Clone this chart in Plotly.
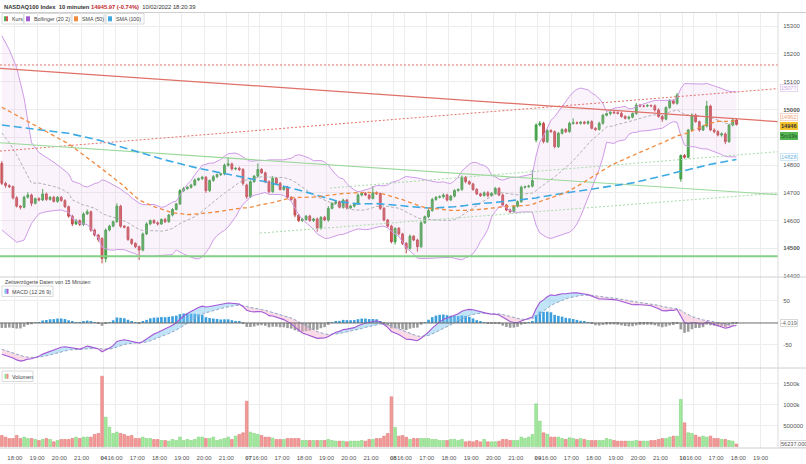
import numpy as np
import plotly.graph_objects as go

# ---------------- time axis ----------------
day_labels = ["04", "07", "08", "09", "10"]
day_first_index = [27, 66, 105, 144, 183]          # index of the 15:30 bar of each session
hour_labels = ["16:00", "17:00", "18:00", "19:00", "20:00", "21:00"]
hour_steps = [3, 9, 15, 21, 27, 33]                # bars after 15:30
day03_first_index = -12                            # 03/02 15:30 lies before the window

# ---------------- candles (10-minute closes per session) ----------------
close_03 = [14734, 14726, 14722, 14682, 14652, 14648, 14684, 14692, 14662, 14679,
            14674, 14696, 14676, 14684, 14669, 14684, 14672, 14650, 14616, 14588,
            14600, 14586, 14624, 14632, 14566, 14548, 14532]
close_04 = [14464, 14566, 14580, 14596, 14652, 14580, 14576, 14532, 14518, 14506,
            14494, 14552, 14588, 14600, 14592, 14588, 14604, 14596, 14620, 14640,
            14660, 14708, 14715, 14720, 14728, 14746, 14751, 14756, 14708, 14744,
            14758, 14765, 14768, 14799, 14804, 14786, 14788, 14784, 14734]
close_07 = [14686, 14740, 14760, 14784, 14772, 14740, 14704, 14752, 14734, 14712,
            14720, 14684, 14676, 14620, 14600, 14604, 14616, 14600, 14606, 14572,
            14612, 14602, 14644, 14662, 14668, 14648, 14674, 14646, 14652, 14660,
            14692, 14698, 14692, 14680, 14700, 14697, 14644, 14602, 14580]
close_08 = [14524, 14572, 14552, 14518, 14500, 14544, 14530, 14506, 14592, 14614,
            14636, 14676, 14684, 14686, 14692, 14674, 14688, 14708, 14712, 14756,
            14740, 14732, 14712, 14696, 14690, 14700, 14690, 14698, 14716, 14692,
            14656, 14638, 14632, 14652, 14668, 14720, 14722, 14724, 14744]
close_09 = [14944, 14950, 14884, 14924, 14920, 14866, 14914, 14928, 14920, 14950,
            14952, 14950, 14954, 14950, 14956, 14932, 14928, 14950, 14979, 14985,
            14990, 14988, 14986, 14975, 14968, 14972, 14985, 15015, 15012, 15012,
            15014, 15013, 14998, 14975, 14965, 15007, 15031, 15022, 15051]
close_10 = [14834, 14828, 14926, 14980, 14956, 14926, 14940, 15012, 14926, 14920,
            14908, 14912, 14884, 14944, 14962, 14946]
session_open = [14806, 14536, 14728, 14580, 14890, 14750]

wick_up_03 = [8, 6, 5, 4, 6, 4, 6, 10, 5, 4, 5, 18, 5, 4, 5, 4, 4, 5, 4, 5, 6, 4, 6, 8, 4, 5, 4]
wick_dn_03 = [6, 8, 5, 6, 5, 8, 4, 5, 10, 4, 5, 4, 5, 4, 4, 5, 4, 5, 6, 8, 4, 6, 5, 4, 6, 5, 8]
wick_up_04 = [4, 6, 5, 4, 10, 5, 4, 4, 4, 4, 4, 5, 6, 4, 5, 5, 4, 6, 4, 5, 4, 5, 6, 4, 5, 6,
              4, 5, 4, 4, 6, 5, 4, 6, 24, 5, 4, 6, 5]
wick_dn_04 = [18, 14, 5, 4, 4, 6, 4, 5, 6, 5, 36, 5, 4, 5, 4, 6, 4, 5, 4, 5, 4, 4, 5, 4, 5, 4,
              4, 5, 8, 5, 4, 5, 4, 5, 5, 6, 5, 6, 8]
wick_up_07 = [5, 5, 4, 22, 5, 4, 5, 8, 4, 5, 4, 5, 4, 6, 4, 6, 4, 5, 4, 5, 4, 5, 8, 4, 5, 4,
              5, 4, 5, 4, 6, 4, 5, 4, 24, 5, 4, 5, 4]
wick_dn_07 = [8, 5, 4, 5, 4, 5, 6, 4, 5, 4, 5, 6, 4, 8, 5, 4, 5, 4, 5, 12, 5, 4, 6, 4, 5, 4,
              5, 6, 4, 5, 4, 5, 4, 5, 4, 5, 6, 5, 6]
wick_up_08 = [5, 4, 5, 4, 5, 6, 4, 5, 6, 4, 5, 6, 4, 5, 6, 5, 4, 5, 4, 6, 4, 5, 4, 5, 4, 5,
              6, 4, 5, 4, 5, 4, 5, 4, 5, 6, 4, 5, 38]
wick_dn_08 = [6, 10, 5, 6, 18, 5, 4, 18, 5, 4, 5, 4, 5, 4, 6, 5, 4, 5, 4, 5, 6, 4, 5, 4, 5, 4,
              6, 4, 5, 4, 5, 4, 6, 4, 5, 4, 5, 4, 5]
wick_up_09 = [6, 8, 5, 6, 5, 4, 5, 4, 5, 6, 16, 5, 4, 5, 4, 5, 4, 6, 5, 4, 5, 4, 5, 6, 4, 5,
              4, 8, 5, 4, 5, 4, 5, 6, 5, 4, 6, 5, 8]
wick_dn_09 = [8, 5, 6, 5, 4, 6, 5, 4, 5, 4, 5, 4, 5, 4, 5, 4, 5, 4, 5, 4, 6, 5, 4, 5, 4, 5,
              4, 5, 4, 5, 4, 5, 6, 5, 10, 4, 5, 4, 5]
wick_up_10 = [4, 5, 4, 6, 5, 4, 5, 19, 5, 6, 5, 6, 5, 4, 5, 6]
wick_dn_10 = [10, 5, 4, 5, 4, 6, 4, 5, 4, 6, 5, 6, 9, 4, 5, 4]

# volume per bar, thousands
vol_03 = [262, 222, 190, 190, 262, 190, 222, 190, 190, 167, 143, 167, 190, 167, 111, 143,
          167, 167, 167, 190, 222, 190, 222, 222, 222, 286, 309]
vol_04 = [1673, 697, 459, 309, 341, 309, 286, 246, 262, 190, 190, 222, 190, 190, 167, 167,
          143, 143, 127, 167, 143, 222, 143, 167, 143, 167, 222, 222, 190, 190, 222, 143,
          167, 190, 222, 167, 246, 286, 325]
vol_07 = [1078, 340, 310, 290, 262, 222, 222, 200, 167, 167, 167, 190, 190, 190, 190, 143,
          143, 143, 143, 143, 143, 143, 167, 143, 127, 127, 127, 111, 127, 127, 127, 143,
          127, 167, 167, 190, 190, 246, 309]
vol_08 = [1183, 452, 246, 262, 222, 167, 190, 190, 190, 190, 190, 167, 167, 143, 143, 143,
          167, 167, 143, 167, 111, 127, 111, 143, 111, 167, 111, 111, 111, 127, 167, 167,
          143, 143, 143, 222, 190, 222, 286]
vol_09 = [1016, 603, 326, 293, 222, 222, 222, 190, 167, 206, 190, 167, 190, 167, 143, 143,
          143, 143, 143, 190, 167, 143, 127, 127, 127, 127, 127, 143, 127, 127, 127, 143,
          143, 167, 190, 190, 222, 246, 246]
vol_10 = [1120, 563, 326, 309, 270, 222, 246, 222, 246, 190, 190, 167, 167, 143, 127, 56.237]

# ---------------- indicators read where their window starts before the chart ----------------
bb_head_index = [0, 2, 4, 6, 7, 8, 10, 12, 14, 16, 18]
bb_head_upper = [15265, 15215, 15150, 15040, 14960, 14880, 14845, 14828, 14810, 14790, 14768]
bb_head_lower = [14566, 14545, 14522, 14530, 14560, 14590, 14625, 14632, 14636, 14638, 14630]
sma50_head_index = [0, 8, 18, 26, 32, 37, 41, 46]
sma50_head = [15008, 14948, 14876, 14796, 14734, 14674, 14650, 14628]
sma100_head_index = [0, 18, 26, 35, 44, 53, 62, 71, 80, 86, 91, 96]
sma100_head = [14944, 14914, 14890, 14854, 14818, 14788, 14764, 14740, 14710, 14686, 14668, 14660]
macd_seed = {"ema12": 14846, "ema26": 14913, "signal": -57}

# ---------------- drawn trend lines (index, price) ----------------
red_solid = ([-0.5, 209.2], [15148, 14956])
red_dotted_up = ([-0.5, 209.2], [14850, 15075])
red_dotted_level = 15160
green_solid = ([-0.5, 209.2], [14880, 14693])
green_dotted_low = ([69.6, 209.2], [14555, 14699])
green_dotted_high = ([88.5, 209.2], [14717, 14848])
green_support = 14472

# right-axis value boxes
box_bb_upper = 15077
box_sma50 = 14962
box_price = 14946
box_sma100 = 14828
box_macd = "-4.019"
box_volume = "56237.000"
countdown = "5m19s"

price_ticks = [14400, 14500, 14600, 14700, 14800, 14900, 15000, 15100, 15200, 15300]
price_hidden = [14900]            # label covered by the value boxes in the chart
macd_ticks = [-50, 50]
volume_ticks = [500000, 1000000, 1500000]
volume_ticktext = ["500000", "1000k", "1500k"]

# ---------------- build series ----------------
sessions = [close_03, close_04, close_07, close_08, close_09, close_10]
wu = [wick_up_03, wick_up_04, wick_up_07, wick_up_08, wick_up_09, wick_up_10]
wd = [wick_dn_03, wick_dn_04, wick_dn_07, wick_dn_08, wick_dn_09, wick_dn_10]
vols = [vol_03, vol_04, vol_07, vol_08, vol_09, vol_10]
O, H, L, C, V = [], [], [], [], []
for s, cl in enumerate(sessions):
    for k, c in enumerate(cl):
        o = session_open[s] if k == 0 else cl[k - 1]
        O.append(o); C.append(c)
        H.append(max(o, c) + wu[s][k]); L.append(min(o, c) - wd[s][k])
        V.append(vols[s][k] * 1000)
n = len(C)
idx = np.arange(n)
c_arr = np.array(C, dtype=float)

# Bollinger (20, 2)
bb_up_c, bb_lo_c, bb_mid_c = [], [], []
for i in range(19, n):
    w = c_arr[i - 19:i + 1]
    m, sd = w.mean(), w.std()
    bb_mid_c.append(m); bb_up_c.append(m + 2 * sd); bb_lo_c.append(m - 2 * sd)
bb_x = list(bb_head_index) + list(range(19, n))
bb_up = list(bb_head_upper) + bb_up_c
bb_lo = list(bb_head_lower) + bb_lo_c
bb_mid = [(a + b) / 2 for a, b in zip(bb_head_upper, bb_head_lower)] + bb_mid_c

sma50_x = list(sma50_head_index) + list(range(49, n))
sma50 = list(sma50_head) + [c_arr[i - 49:i + 1].mean() for i in range(49, n)]
sma100_x = list(sma100_head_index) + list(range(99, n))
sma100 = list(sma100_head) + [c_arr[i - 99:i + 1].mean() for i in range(99, n)]

# MACD (12 26 9)
e12, e26, sg = macd_seed["ema12"], macd_seed["ema26"], macd_seed["signal"]
macd, sig = [], []
for v in c_arr:
    e12 += 2 / 13 * (v - e12)
    e26 += 2 / 27 * (v - e26)
    m = e12 - e26
    sg += 0.2 * (m - sg)
    macd.append(m); sig.append(sg)
macd = np.array(macd); sig = np.array(sig); hist = macd - sig

# ---------------- geometry helpers (pixels -> paper) ----------------
W, Hh = 806, 464
ML, MR, MT, MB = 0, 28, 13, 16
PW, PH = W - ML - MR, Hh - MT - MB
def pxx(x): return (x - ML) / PW
def pxy(y): return (Hh - MB - y) / PH

FONT = "Arial, Liberation Sans, sans-serif"
GREEN, RED = "#4daf4f", "#d2595a"
fig = go.Figure()

# Bollinger fill + lines
fig.add_trace(go.Scatter(x=bb_x, y=bb_up, mode="lines", line=dict(color="#cf9be8", width=1),
                         xaxis="x", yaxis="y", hoverinfo="skip"))
fig.add_trace(go.Scatter(x=bb_x, y=bb_lo, mode="lines", line=dict(color="#cf9be8", width=1),
                         fill="tonexty", fillcolor="rgba(225,190,240,0.18)",
                         xaxis="x", yaxis="y", hoverinfo="skip"))
fig.add_trace(go.Scatter(x=bb_x, y=bb_mid, mode="lines", line=dict(color="#a0a0a0", width=0.8, dash="3px,2px"),
                         xaxis="x", yaxis="y"))

xr = [-0.5, 209.2]
# trend lines
fig.add_trace(go.Scatter(x=xr, y=[green_support] * 2, mode="lines", line=dict(color="#86d086", width=2), xaxis="x", yaxis="y"))
fig.add_trace(go.Scatter(x=xr, y=[red_dotted_level] * 2, mode="lines", line=dict(color="#e5706a", width=1, dash="2px,2px"), xaxis="x", yaxis="y"))
fig.add_trace(go.Scatter(x=red_dotted_up[0], y=red_dotted_up[1], mode="lines", line=dict(color="#e5706a", width=1, dash="2px,2px"), xaxis="x", yaxis="y"))
fig.add_trace(go.Scatter(x=red_solid[0], y=red_solid[1], mode="lines", line=dict(color="#e07068", width=1.2), xaxis="x", yaxis="y"))
fig.add_trace(go.Scatter(x=green_solid[0], y=green_solid[1], mode="lines", line=dict(color="#9ad89a", width=1.1), xaxis="x", yaxis="y"))
fig.add_trace(go.Scatter(x=green_dotted_low[0], y=green_dotted_low[1], mode="lines", line=dict(color="#a8dca8", width=1, dash="2px,2px"), xaxis="x", yaxis="y"))
fig.add_trace(go.Scatter(x=green_dotted_high[0], y=green_dotted_high[1], mode="lines", line=dict(color="#a8dca8", width=1, dash="2px,2px"), xaxis="x", yaxis="y"))

# SMAs
fig.add_trace(go.Scatter(x=sma100_x, y=sma100, mode="lines", line=dict(color="#3ca9e2", width=1.6, dash="8px,4px"), xaxis="x", yaxis="y"))
fig.add_trace(go.Scatter(x=sma50_x, y=sma50, mode="lines", line=dict(color="#f08a3e", width=1.3, dash="4px,3px"), xaxis="x", yaxis="y"))

# candles
fig.add_trace(go.Candlestick(x=idx, open=O, high=H, low=L, close=C, xaxis="x", yaxis="y",
                             increasing=dict(line=dict(color="#3f9e42", width=1), fillcolor=GREEN),
                             decreasing=dict(line=dict(color="#c24b4c", width=1), fillcolor=RED),
                             whiskerwidth=0))

# MACD pane
fig.add_trace(go.Bar(x=idx, y=hist, width=0.7, xaxis="x2", yaxis="y2",
                     marker=dict(color=["#3a9fdc" if h >= 0 else "#9c9c9c" for h in hist], line=dict(width=0))))
fig.add_trace(go.Scatter(x=idx, y=sig, mode="lines", line=dict(width=0), xaxis="x2", yaxis="y2", hoverinfo="skip"))
fig.add_trace(go.Scatter(x=idx, y=np.maximum(macd, sig), mode="lines", line=dict(width=0), fill="tonexty",
                         fillcolor="rgba(120,195,240,0.45)", xaxis="x2", yaxis="y2", hoverinfo="skip"))
fig.add_trace(go.Scatter(x=idx, y=sig, mode="lines", line=dict(width=0), xaxis="x2", yaxis="y2", hoverinfo="skip"))
fig.add_trace(go.Scatter(x=idx, y=np.minimum(macd, sig), mode="lines", line=dict(width=0), fill="tonexty",
                         fillcolor="rgba(245,175,205,0.45)", xaxis="x2", yaxis="y2", hoverinfo="skip"))
fig.add_trace(go.Scatter(x=idx, y=sig, mode="lines", line=dict(color="#8fa6c4", width=1, dash="3px,2px"), xaxis="x2", yaxis="y2"))
fig.add_trace(go.Scatter(x=idx, y=macd, mode="lines", line=dict(color="#a358d6", width=1.1), xaxis="x2", yaxis="y2"))

# Volume pane
up = [c >= o for o, c in zip(O, C)]
fig.add_trace(go.Bar(x=idx, y=V, width=0.72, xaxis="x3", yaxis="y3",
                     marker=dict(color=["#a3ea9f" if u else "#f29a98" for u in up],
                                 line=dict(color=["#7fd27b" if u else "#e07a78" for u in up], width=0.6))))

# ---------------- axes ----------------
tickvals, ticktext = [], []
for s, lab in zip(hour_steps, hour_labels):
    t = day03_first_index + s + 0.5
    if xr[0] <= t <= xr[1]:
        tickvals.append(t); ticktext.append(lab)
for d, lab in zip(day_first_index, day_labels):
    tickvals.append(d + 0.5); ticktext.append("<b>%s</b>" % lab)
    for s, hl in zip(hour_steps, hour_labels):
        t = d + s + 0.5
        if xr[0] <= t <= xr[1]:
            tickvals.append(t); ticktext.append(hl)

grid = "#ededed"
xcommon = dict(range=xr, tickvals=tickvals, ticktext=ticktext, showgrid=True, gridcolor=grid,
               gridwidth=1, zeroline=False, showline=False, domain=[0, 1], fixedrange=True, tickangle=0)
ycommon = dict(side="right", showgrid=True, gridcolor=grid, zeroline=False, showline=False,
               tickfont=dict(size=6, color="#555", family=FONT), ticks="outside", ticklen=3,
               tickcolor="rgba(0,0,0,0)", fixedrange=True)

main_dom = [pxy(277), 1]
macd_dom = [pxy(368), pxy(277)]
vol_dom = [0, pxy(368)]

price_text = ["" if t in price_hidden else ("<b>%d</b>" % t if t % 500 == 0 else str(t)) for t in price_ticks]

fig.update_layout(
    width=W, height=Hh, margin=dict(l=ML, r=MR, t=MT, b=MB),
    paper_bgcolor="white", plot_bgcolor="white", showlegend=False,
    font=dict(family=FONT, size=6, color="#555"),
    xaxis=dict(xcommon, anchor="y", showticklabels=False, rangeslider=dict(visible=False)),
    xaxis2=dict(xcommon, anchor="y2", matches="x", showticklabels=False),
    xaxis3=dict(xcommon, anchor="y3", matches="x", showticklabels=True, ticks="outside", ticklen=4,
                tickcolor="rgba(0,0,0,0)", tickfont=dict(size=6, color="#555", family=FONT)),
    yaxis=dict(ycommon, domain=main_dom, anchor="x", range=[14397, 15347], tickvals=price_ticks, ticktext=price_text),
    yaxis2=dict(ycommon, domain=macd_dom, anchor="x2", range=[-102.3, 104.5], tickvals=macd_ticks,
                ticktext=[str(t) for t in macd_ticks]),
    yaxis3=dict(ycommon, domain=vol_dom, anchor="x3", range=[-36000, 1869000], tickvals=volume_ticks,
                ticktext=volume_ticktext),
)

shapes = []
def hline(y, x0=0, x1=W, color="#d0d0d0", w=1):
    shapes.append(dict(type="line", xref="paper", yref="paper", x0=pxx(x0), x1=pxx(x1), y0=pxy(y), y1=pxy(y),
                       line=dict(color=color, width=w)))
hline(12.5); hline(277); hline(368); hline(448)
shapes.append(dict(type="line", xref="paper", yref="paper", x0=1, x1=1, y0=0, y1=1, line=dict(color="#dcdcdc", width=1)))
shapes.append(dict(type="line", xref="paper", yref="y2", x0=0, x1=1, y0=0, y1=0, line=dict(color="#6a6a6a", width=1)))

annotations = []
def box(x0, x1, y0, y1):
    shapes.append(dict(type="rect", xref="paper", yref="paper", x0=pxx(x0), x1=pxx(x1), y0=pxy(y1), y1=pxy(y0),
                       line=dict(color="#dadada", width=1), fillcolor="white", layer="below"))
def icon(x0, y0, colors):
    wseg = 4.0 / len(colors)
    for k, col in enumerate(colors):
        shapes.append(dict(type="rect", xref="paper", yref="paper", x0=pxx(x0 + k * wseg), x1=pxx(x0 + (k + 1) * wseg),
                           y0=pxy(y0 + 5), y1=pxy(y0), line=dict(width=0), fillcolor=col))
def text(x, y, t, size=5.6, color="#444"):
    annotations.append(dict(xref="paper", yref="paper", x=pxx(x), y=pxy(y), text=t, showarrow=False,
                            xanchor="left", yanchor="middle", font=dict(size=size, color=color, family=FONT)))

# title
text(2, 7, "<b>NASDAQ100 Index</b>  <b>10 minuten</b> <b><span style='color:#c0282d'>14945.97 (-0.74%)</span></b>  10/02/2022 18:20:39",
     size=5.8, color="#333")
# main legend
legend_items = [("Kurs", 2, 23.5, [GREEN, RED]), ("Bollinger (20 2)", 24, 71, ["#a05cd0"]),
                ("SMA (50)", 72, 105, ["#f08a3e"]), ("SMA (100)", 106, 144, ["#3ca9e2"])]
for lab, a, b, cols in legend_items:
    box(a, b, 13.5, 24)
    icon(a + 2, 16.3, cols)
    text(a + 7.5, 19, lab, size=5.3)
# MACD pane header
text(3, 281.5, "Zeitverzögerte Daten von 15 Minuten", size=5.2, color="#444")
box(2, 53, 286, 296.5); icon(4.5, 288.8, ["#7ec3ee", "#a05cd0"]); text(10, 291.5, "MACD (12 26 9)", size=5.4)
# volume legend
box(2, 33, 371, 381.5); icon(4.5, 373.8, ["#8fe08b", "#f08a88"]); text(10, 376.5, "Volumen", size=5.4)

def valbox(y, yref, t, fg, bg="white", border="#d8d8d8", yshift=0, size=5.6):
    annotations.append(dict(xref="paper", yref=yref, x=1, y=y, xanchor="left", yanchor="middle", xshift=2,
                            yshift=yshift, text=t, showarrow=False, bgcolor=bg, bordercolor=border, borderwidth=1,
                            borderpad=0, font=dict(size=size, color=fg, family=FONT)))
valbox(box_bb_upper, "y", str(box_bb_upper), "#c9a4e6", border="#e6d6f2")
valbox(box_sma50, "y", str(box_sma50), "#f1a276", border="#f6d8c6", yshift=2.5)
valbox(box_price, "y", "<b>%d</b>" % box_price, "#333", bg="#f3c22a", border="#f3c22a", yshift=-1.5)
valbox(box_price, "y", countdown, "#1d4d1d", bg="#55b555", border="#55b555", yshift=-11.5, size=5.4)
valbox(box_sma100, "y", str(box_sma100), "#6fb6e6", border="#cfe6f6")
valbox(0, "y2", box_macd, "#666")
valbox(56237, "y3", box_volume, "#555")

fig.update_layout(shapes=shapes, annotations=annotations)
fig.write_html("out.html")
